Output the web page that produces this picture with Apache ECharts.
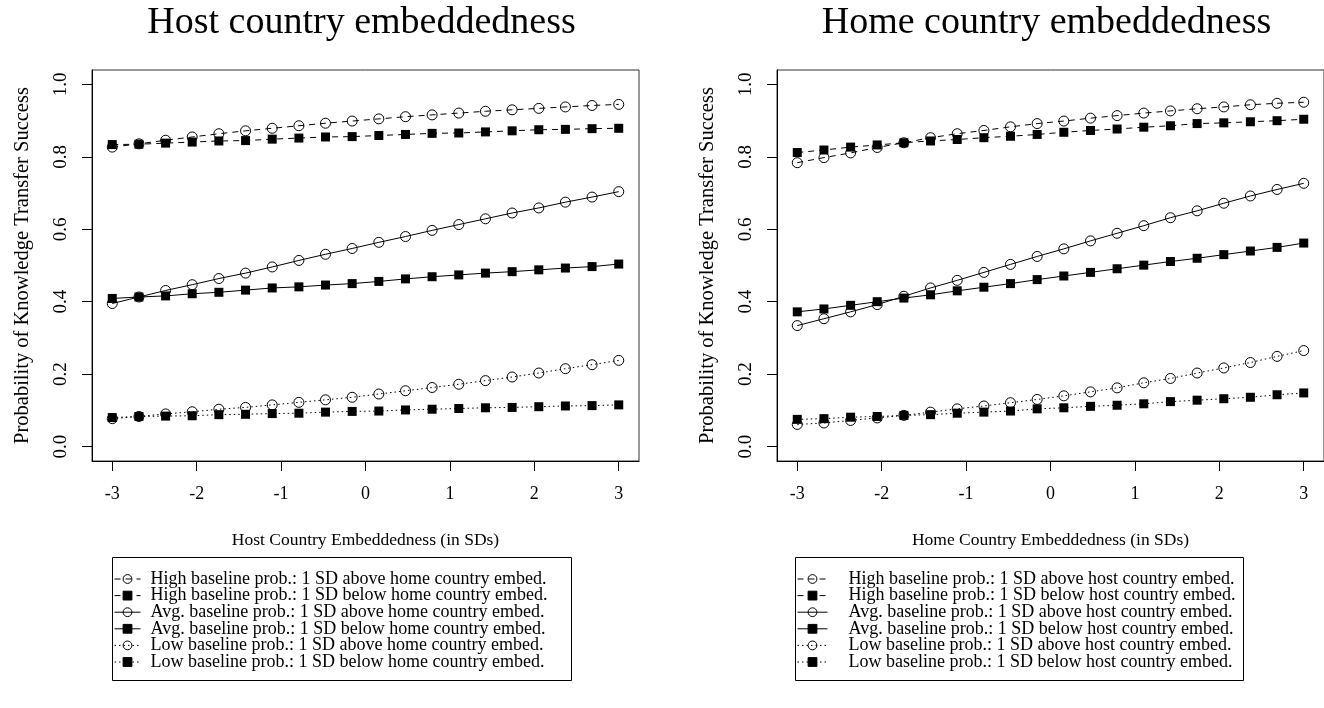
<!DOCTYPE html>
<html>
<head>
<meta charset="utf-8">
<script src="https://cdn.jsdelivr.net/npm/echarts@6/dist/echarts.min.js"></script>
<style>
  html, body { margin: 0; padding: 0; background: #fff; }
  #chart { width: 1324px; height: 708px; }
</style>
</head>
<body>
<div id="chart"></div>
<script>
// Embeddedness in SDs (20 evaluation points from -3 to 3)
const xs = [-3, -2.684, -2.368, -2.053, -1.737, -1.421, -1.105, -0.789, -0.474, -0.158,
            0.158, 0.474, 0.789, 1.105, 1.421, 1.737, 2.053, 2.368, 2.684, 3];

const xTicks = [-3, -2, -1, 0, 1, 2, 3];
const yTicks = [0, 0.2, 0.4, 0.6, 0.8, 1.0];

// Left panel: predicted probability over host country embeddedness
const hostHighAbove = [0.827, 0.836, 0.846, 0.855, 0.864, 0.872, 0.879, 0.886, 0.893, 0.899,
                       0.905, 0.911, 0.916, 0.921, 0.926, 0.930, 0.934, 0.938, 0.942, 0.945];
const hostHighBelow = [0.834, 0.835, 0.838, 0.841, 0.844, 0.845, 0.849, 0.852, 0.855, 0.856,
                       0.859, 0.862, 0.865, 0.866, 0.869, 0.872, 0.875, 0.876, 0.878, 0.879];
const hostAvgAbove  = [0.395, 0.413, 0.431, 0.447, 0.464, 0.479, 0.496, 0.514, 0.531, 0.547,
                       0.564, 0.580, 0.597, 0.613, 0.629, 0.645, 0.659, 0.675, 0.689, 0.704];
const hostAvgBelow  = [0.409, 0.413, 0.416, 0.422, 0.426, 0.432, 0.438, 0.441, 0.446, 0.450,
                       0.456, 0.463, 0.469, 0.474, 0.479, 0.483, 0.488, 0.493, 0.497, 0.504];
const hostLowAbove  = [0.077, 0.083, 0.090, 0.096, 0.103, 0.108, 0.115, 0.122, 0.129, 0.136,
                       0.145, 0.154, 0.163, 0.172, 0.182, 0.192, 0.203, 0.215, 0.226, 0.238];
const hostLowBelow  = [0.080, 0.083, 0.084, 0.085, 0.088, 0.089, 0.091, 0.092, 0.095, 0.097,
                       0.098, 0.101, 0.103, 0.105, 0.107, 0.108, 0.110, 0.112, 0.113, 0.115];

// Right panel: predicted probability over home country embeddedness
const homeHighAbove = [0.784, 0.798, 0.811, 0.826, 0.839, 0.853, 0.864, 0.873, 0.883, 0.892,
                       0.899, 0.907, 0.914, 0.921, 0.927, 0.933, 0.938, 0.944, 0.948, 0.951];
const homeHighBelow = [0.812, 0.819, 0.827, 0.833, 0.839, 0.844, 0.848, 0.853, 0.857, 0.862,
                       0.868, 0.873, 0.877, 0.882, 0.886, 0.892, 0.894, 0.897, 0.900, 0.904];
const homeAvgAbove  = [0.334, 0.353, 0.372, 0.392, 0.415, 0.438, 0.459, 0.481, 0.503, 0.525,
                       0.546, 0.568, 0.589, 0.610, 0.632, 0.651, 0.672, 0.692, 0.710, 0.727];
const homeAvgBelow  = [0.372, 0.380, 0.390, 0.400, 0.410, 0.419, 0.430, 0.440, 0.450, 0.461,
                       0.471, 0.481, 0.491, 0.501, 0.511, 0.520, 0.530, 0.540, 0.550, 0.562];
const homeLowAbove  = [0.061, 0.065, 0.072, 0.079, 0.086, 0.095, 0.104, 0.112, 0.121, 0.130,
                       0.140, 0.151, 0.162, 0.176, 0.188, 0.203, 0.217, 0.232, 0.249, 0.265];
const homeLowBelow  = [0.075, 0.077, 0.081, 0.083, 0.086, 0.088, 0.092, 0.095, 0.098, 0.104,
                       0.107, 0.111, 0.114, 0.118, 0.124, 0.128, 0.132, 0.136, 0.143, 0.148];

const panelTitles = ['Host country embeddedness', 'Home country embeddedness'];
const xTitles = ['Host Country Embeddedness (in SDs)', 'Home Country Embeddedness (in SDs)'];
const yTitle = 'Probability of Knowledge Transfer Success';

const hostNames = [
  'High baseline prob.: 1 SD above home country embed.',
  'High baseline prob.: 1 SD below home country embed.',
  'Avg. baseline prob.: 1 SD above home country embed.',
  'Avg. baseline prob.: 1 SD below home country embed.',
  'Low baseline prob.: 1 SD above home country embed.',
  'Low baseline prob.: 1 SD below home country embed.'
];
const homeNames = [
  'High baseline prob.: 1 SD above host country embed.',
  'High baseline prob.: 1 SD below host country embed.',
  'Avg. baseline prob.: 1 SD above host country embed.',
  'Avg. baseline prob.: 1 SD below host country embed.',
  'Low baseline prob.: 1 SD above host country embed.',
  'Low baseline prob.: 1 SD below host country embed.'
];

const FONT = '"Liberation Serif", "Times New Roman", serif';
const DASHED = [6, 5];
const DOTTED = [1.5, 3];
const lineTypes = [DASHED, DASHED, 'solid', 'solid', DOTTED, DOTTED];
const openMarker = [true, false, true, false, true, false];

const panels = [
  { left: 92, values: [hostHighAbove, hostHighBelow, hostAvgAbove, hostAvgBelow, hostLowAbove, hostLowBelow], names: hostNames },
  { left: 777, values: [homeHighAbove, homeHighBelow, homeAvgAbove, homeAvgBelow, homeLowAbove, homeLowBelow], names: homeNames }
];

const BOX_TOP = 70, BOX_W = 547, BOX_H = 391;

const grids = [], xAxes = [], yAxes = [], series = [], legends = [], graphics = [];

panels.forEach((p, i) => {
  grids.push({
    left: p.left, top: BOX_TOP, width: BOX_W, height: BOX_H,
    show: true, borderColor: '#333', borderWidth: 1, backgroundColor: 'transparent',
    containLabel: false, outerBoundsMode: 'none'
  });
  xAxes.push({
    type: 'value', gridIndex: i, min: -3.24, max: 3.24, position: 'bottom',
    name: xTitles[i], nameLocation: 'middle', nameGap: 70,
    nameTextStyle: { fontFamily: FONT, fontSize: 17.5, color: '#000' },
    axisLine: { show: true, onZero: false, lineStyle: { color: '#000', width: 1 } },
    axisTick: { show: true, inside: false, length: 10, customValues: xTicks, lineStyle: { color: '#000' } },
    axisLabel: { customValues: xTicks, margin: 24, fontFamily: FONT, fontSize: 18, color: '#000',
                 formatter: v => String(v) },
    splitLine: { show: false }
  });
  yAxes.push({
    type: 'value', gridIndex: i, min: -0.04, max: 1.04, position: 'left',
    name: yTitle, nameLocation: 'middle', nameGap: 59, nameRotate: 90,
    nameTextStyle: { fontFamily: FONT, fontSize: 20.5, color: '#000' },
    axisLine: { show: true, onZero: false, lineStyle: { color: '#000', width: 1 } },
    axisTick: { show: true, inside: false, length: 10, customValues: yTicks, lineStyle: { color: '#000' } },
    axisLabel: { customValues: yTicks, margin: 21, rotate: 90, fontFamily: FONT, fontSize: 19, color: '#000',
                 formatter: v => v.toFixed(1) },
    splitLine: { show: false }
  });
  p.values.forEach((vals, k) => {
    const open = openMarker[k];
    series.push({
      type: 'line', name: p.names[k], xAxisIndex: i, yAxisIndex: i,
      data: xs.map((x, j) => [x, vals[j]]),
      symbol: open ? 'circle' : 'rect',
      symbolSize: open ? 10 : 9,
      showSymbol: true,
      lineStyle: { color: '#000', width: 1, type: lineTypes[k] },
      itemStyle: open
        ? { color: 'rgba(255,255,255,0)', borderColor: '#000', borderWidth: 1 }
        : { color: '#000', borderColor: '#000', borderWidth: 0 },
      emphasis: { disabled: true },
      z: 2 + k
    });
  });
  graphics.push({
    type: 'text', x: p.left + BOX_W / 2 - 4, y: 4,
    style: { text: panelTitles[i], font: '38px ' + FONT, fill: '#000', textAlign: 'center' }
  });
});

// Legend frames under each panel
const legendBoxes = [
  { x: 112, y: 557, w: 459, h: 123, itemLeft: 114, itemWidth: 26, textGap: 5 },
  { x: 795, y: 557, w: 448, h: 123, itemLeft: 797, itemWidth: 30, textGap: 16 }
];
legendBoxes.forEach((b, i) => {
  graphics.push({
    type: 'rect', shape: { x: b.x + 0.5, y: b.y + 0.5, width: b.w, height: b.h },
    style: { fill: null, stroke: '#000', lineWidth: 1 }
  });
  legends.push({
    data: panels[i].names, orient: 'vertical', left: b.itemLeft, top: 570,
    padding: 0, itemGap: -1.4, itemWidth: b.itemWidth, itemHeight: 11,
    selectedMode: false,
    itemStyle: { borderWidth: 1 },
    lineStyle: { width: 1 },
    textStyle: { fontFamily: FONT, fontSize: 18, color: '#000',
                 padding: [0, 0, 0, b.textGap] }
  });
});

const chart = echarts.init(document.getElementById('chart'), null, { renderer: 'canvas' });
chart.setOption({
  animation: false,
  backgroundColor: '#fff',
  grid: grids,
  xAxis: xAxes,
  yAxis: yAxes,
  legend: legends,
  series: series,
  graphic: graphics
});
</script>
</body>
</html>
